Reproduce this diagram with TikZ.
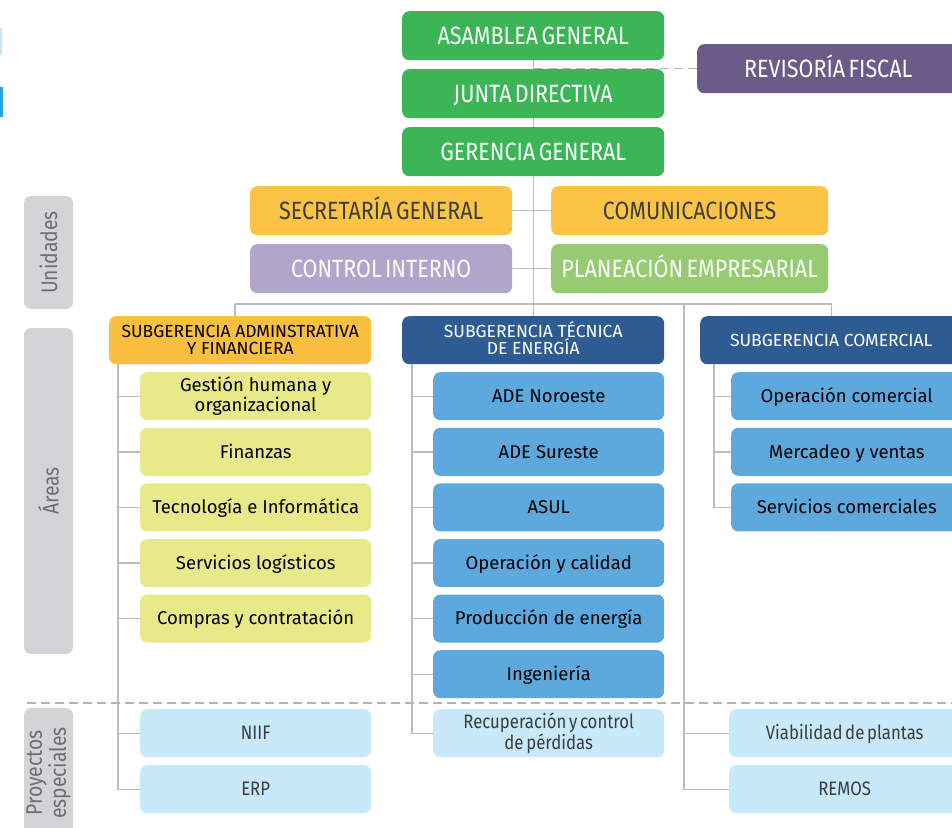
\documentclass[tikz,border=0pt]{standalone}
\usepackage{fontspec}
\setmainfont{Fira Sans}
\newfontfamily\condf[FakeStretch=0.86, WordSpace=0.6]{Fira Sans}
\usetikzlibrary{calc}
\definecolor{gr}{HTML}{3BB556}
\definecolor{purp}{HTML}{6A5B89}
\definecolor{orng}{HTML}{FBC445}
\definecolor{lilac}{HTML}{B2A5CC}
\definecolor{lgreen}{HTML}{97CB72}
\definecolor{orng2}{HTML}{FABF3F}
\definecolor{dblue}{HTML}{2F5B93}
\definecolor{mblue}{HTML}{5DA9DD}
\definecolor{ygreen}{HTML}{E8EA89}
\definecolor{lblue}{HTML}{C7E9F9}
\definecolor{greybox}{HTML}{D3D4D6}
\definecolor{greytxt}{HTML}{6D6E70}
\definecolor{darktxt}{HTML}{3C3C3C}
\definecolor{lineg}{HTML}{BDBDBD}
\definecolor{dashg}{HTML}{B4B4B4}
\definecolor{sliverl}{HTML}{C5E6F7}
\definecolor{sliverb}{HTML}{29A3E0}
\tikzset{
  box/.style={rectangle, rounded corners=7pt, inner sep=0pt, align=center, anchor=north west},
  title/.style={box, minimum height=49pt, text height=17.2pt, text depth=0pt, font=\condf\fontsize{25}{27}\selectfont},
  subt/.style={box, minimum width=262pt, minimum height=48pt, text height=12pt, text depth=0pt, font=\fontsize{17.5}{17}\selectfont},
  area/.style={box, minimum width=231pt, minimum height=48pt, text=black, text height=12.7pt, text depth=0pt, font=\fontsize{18.5}{17}\selectfont},
  proj/.style={box, minimum width=231pt, minimum height=48pt, fill=lblue, text=darktxt, text height=13.4pt, text depth=0pt, font=\condf\fontsize{19.5}{19}\selectfont},
  twoline/.style={text height=#1, text depth=0pt},
  side/.style={rectangle, rounded corners=7pt, fill=greybox, text=greytxt, rotate=90, minimum height=49pt, align=center, inner sep=0pt, font=\condf\fontsize{22.5}{24}\selectfont},
  conn/.style={draw=lineg, line width=1.4pt},
  dashline/.style={draw=dashg, line width=1.2pt, dash pattern=on 9pt off 5pt},
}
\begin{document}
\begin{tikzpicture}[x=1pt,y=-1pt]
\clip (0,0) rectangle (952,827);
\fill[white] (0,0) rectangle (952,827);
\fill[sliverl] (0,28) rectangle (2,55);
\fill[sliverb] (0,87) rectangle (3,117);

% side labels
\node[side, minimum width=113pt] (unid) at (48.5,252.5) {Unidades};
\node[side, minimum width=326pt] (areas) at (48.5,491) {Áreas};
\node[side, minimum width=130pt] (proy) at (48.5,773) {Proyectos\\especiales};

% top
\node[title, minimum width=262pt, fill=gr, text=white] (asamblea) at (402,11) {ASAMBLEA GENERAL};
\node[title, minimum width=262pt, fill=gr, text=white] (junta) at (402,69) {JUNTA DIRECTIVA};
\node[title, minimum width=262pt, fill=gr, text=white] (gerencia) at (402,127) {GERENCIA GENERAL};
\node[title, minimum width=262pt, fill=purp, text=white] (revisoria) at (697,44) {REVISORÍA FISCAL};
\node[title, minimum width=262pt, fill=orng, text=darktxt] (secretaria) at (250,186) {SECRETARÍA GENERAL};
\node[title, minimum width=277pt, fill=orng, text=darktxt] (comunic) at (551,186) {COMUNICACIONES};
\node[title, minimum width=262pt, fill=lilac, text=white] (control) at (250,244) {CONTROL INTERNO};
\node[title, minimum width=277pt, fill=lgreen, text=white] (planeacion) at (551,244) {PLANEACIÓN EMPRESARIAL};

% subgerencias
\node[subt, twoline=29pt, fill=orng2, text=black] (subadm) at (109,316) {SUBGERENCIA ADMINSTRATIVA\\Y FINANCIERA};
\node[subt, twoline=29pt, fill=dblue, text=white] (subtec) at (402,316) {SUBGERENCIA TÉCNICA\\DE ENERGÍA};
\node[subt, fill=dblue, text=white] (subcom) at (700,316) {SUBGERENCIA COMERCIAL};

% areas
\node[area, twoline=29.7pt, fill=ygreen] (gestion) at (140,372) {Gestión humana y\\organizacional};
\node[area, fill=ygreen] (finanzas) at (140,427.6) {Finanzas};
\node[area, fill=ygreen] (tecno) at (140,483.2) {Tecnología e Informática};
\node[area, fill=ygreen] (servlog) at (140,538.8) {Servicios logísticos};
\node[area, fill=ygreen] (compras) at (140,594.4) {Compras y contratación};

\node[area, fill=mblue] (noroeste) at (433,372) {ADE Noroeste};
\node[area, fill=mblue] (sureste) at (433,427.6) {ADE Sureste};
\node[area, fill=mblue] (asul) at (433,483.2) {ASUL};
\node[area, fill=mblue] (opcal) at (433,538.8) {Operación y calidad};
\node[area, fill=mblue] (prod) at (433,594.4) {Producción de energía};
\node[area, fill=mblue] (ing) at (433,650) {Ingeniería};

\node[area, fill=mblue] (opcom) at (731,372) {Operación comercial};
\node[area, fill=mblue] (merc) at (731,427.6) {Mercadeo y ventas};
\node[area, fill=mblue] (servcom) at (731,483.2) {Servicios comerciales};

% proyectos especiales
\node[proj] (niif) at (140,709) {NIIF};
\node[proj] (erp) at (140,765) {ERP};
\node[proj, twoline=32.4pt] (recup) at (433,709) {Recuperación y control\\de pérdidas};
\node[proj] (viab) at (729,709) {Viabilidad de plantas};
\node[proj] (remos) at (729,765) {REMOS};

% connectors top
\draw[conn] (asamblea.south) -- (junta.north);
\draw[conn] (junta.south) -- (gerencia.north);
\draw[dashline] (revisoria.west) -- (revisoria.west -| asamblea.south);
\draw[conn] (secretaria.east) -- (comunic.west);
\draw[conn] (control.east) -- (planeacion.west);

\coordinate (barL) at (235,304);
\coordinate (barC) at (subtec.north |- barL);
\coordinate (barR) at (subcom.north |- barL);
\coordinate (spine3) at (684,304);
\draw[conn] (gerencia.south) -- (barC) -- (subtec.north);
\draw[conn] (barL) -- (barR) -- (subcom.north);
\draw[conn] (barL) -- (barL |- subadm.north);
\draw[conn] (spine3) |- (remos.west);
\draw[conn] (spine3 |- viab.west) -- (viab.west);

% left tree
\coordinate (s1) at (118,364);
\draw[conn] (s1) |- (erp.west);
\foreach \c in {gestion,finanzas,tecno,servlog,compras,niif}
  \draw[conn] (s1 |- \c.west) -- (\c.west);
% tec tree
\coordinate (s2) at (412,364);
\draw[conn] (s2) |- (recup.west);
\foreach \c in {noroeste,sureste,asul,opcal,prod,ing}
  \draw[conn] (s2 |- \c.west) -- (\c.west);
% com tree
\coordinate (s3) at (714,364);
\draw[conn] (s3) |- (servcom.west);
\foreach \c in {opcom,merc}
  \draw[conn] (s3 |- \c.west) -- (\c.west);

% dashed separator
\coordinate (dashL) at (27,703);
\coordinate (dashR) at (952,703);
\draw[dashline] (dashL) -- (dashR);
\end{tikzpicture}
\end{document}
